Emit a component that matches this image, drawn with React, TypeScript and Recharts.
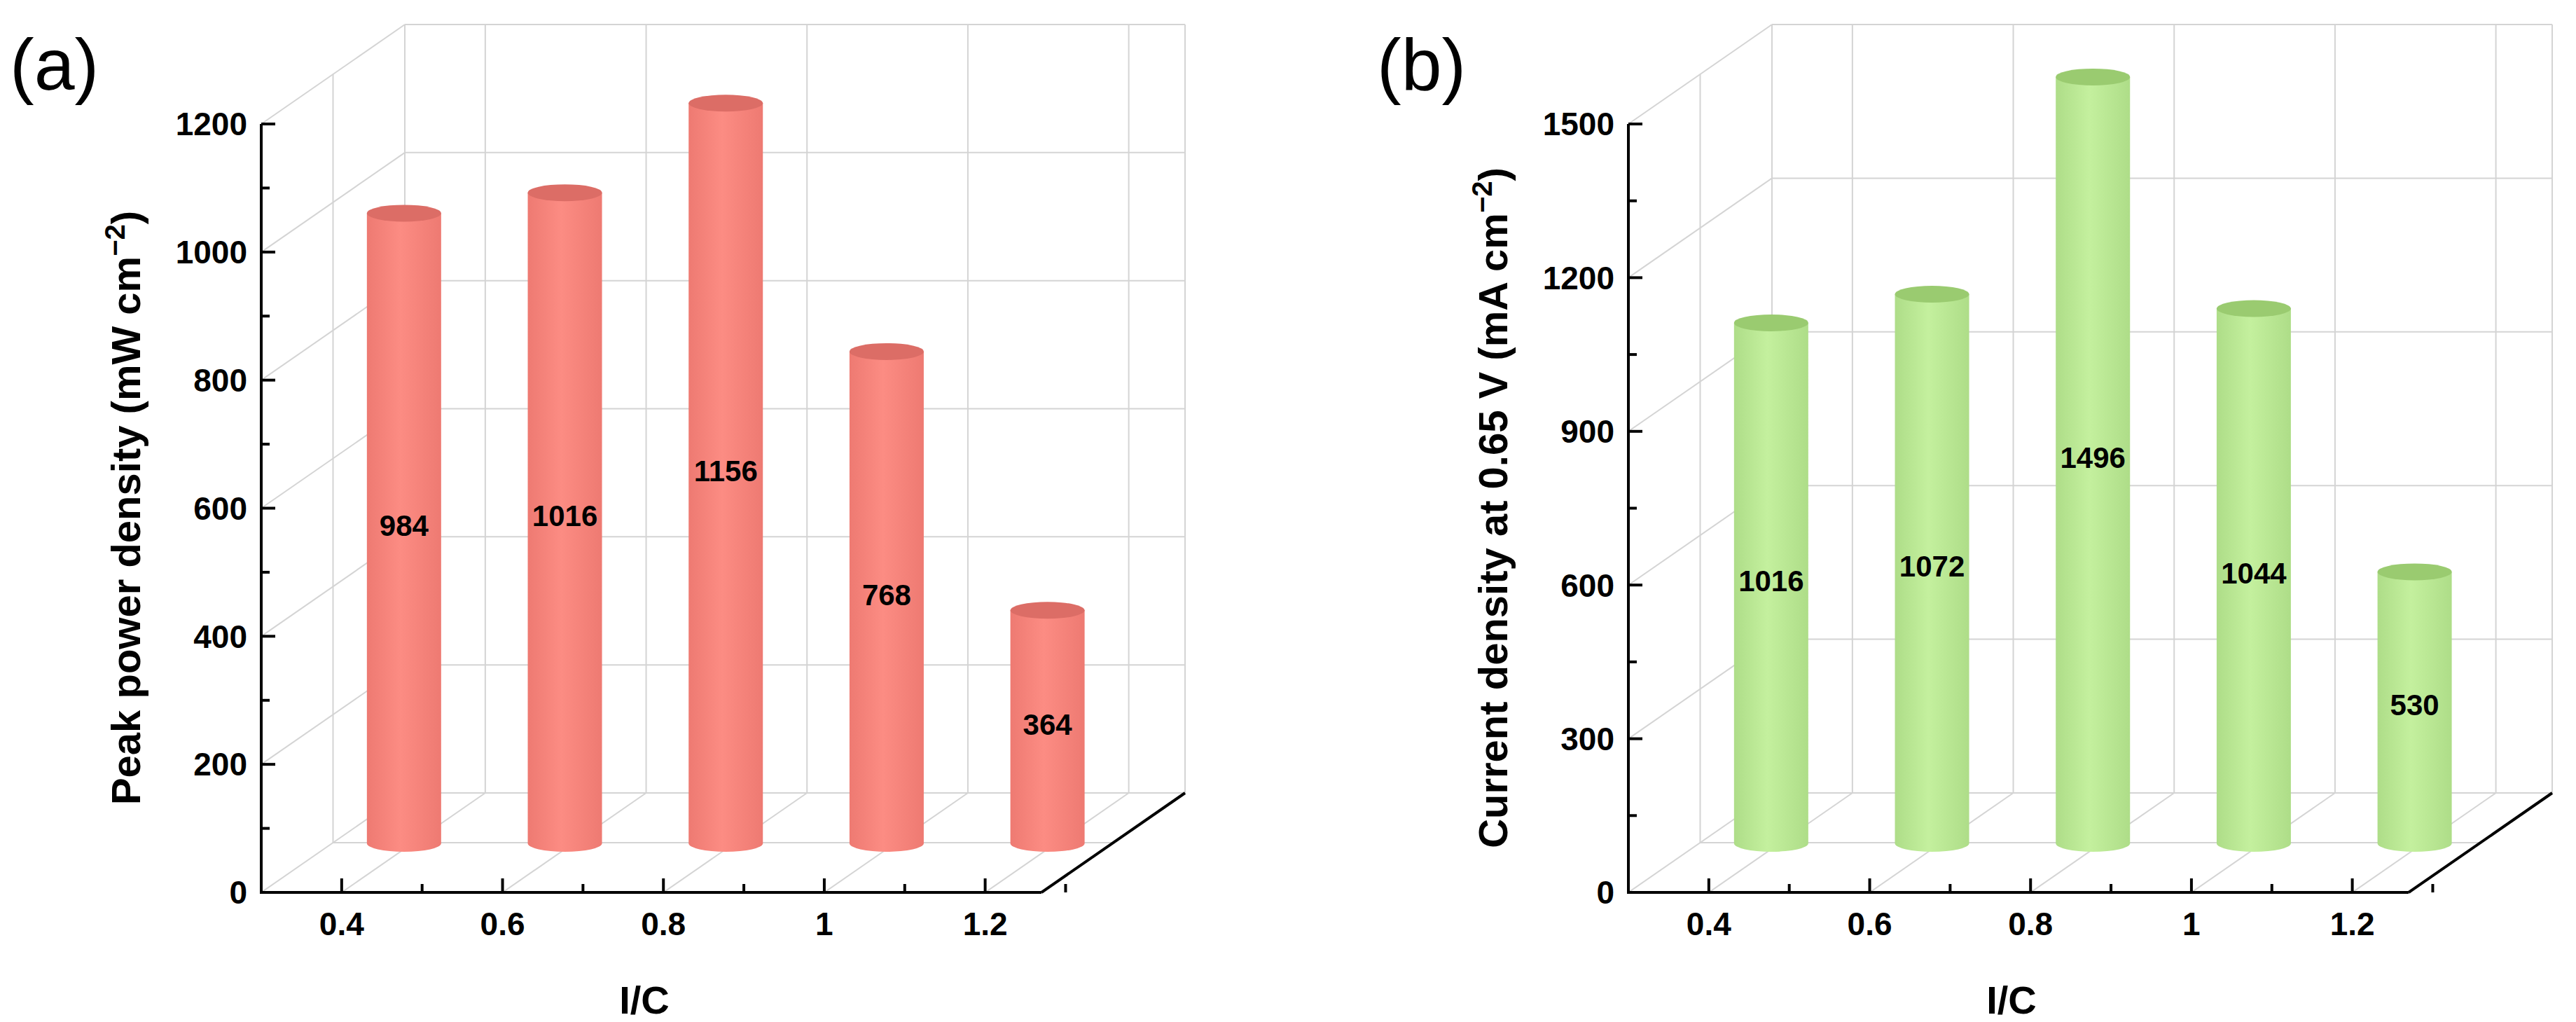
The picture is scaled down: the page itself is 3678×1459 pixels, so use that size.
import React from 'react';
import { BarChart, Bar, XAxis, YAxis } from 'recharts';

const RATIOS = [0.5, 0.7, 0.9, 1.1, 1.3];
const X_TICKS = [0.4, 0.6, 0.8, 1, 1.2];
const POWER = [984, 1016, 1156, 768, 364];
const POWER_TICKS = [0, 200, 400, 600, 800, 1000, 1200];
const CURRENT = [1016, 1072, 1496, 1044, 530];
const CURRENT_TICKS = [0, 300, 600, 900, 1200, 1500];

const PANEL_W = 1726;
const PANEL_H = 1459;
const L = 373, T = 177, B = 1274, R = 1487;
const W = R - L, H = B - T;
const X_AXIS_H = 80;
const X_MIN = 0.3, X_MAX = 1.27, X_PLOT_MAX = 1.4;
const PLOT_R = L + ((X_PLOT_MAX - X_MIN) / (X_MAX - X_MIN)) * W;
const DX = 205, DY = -142;
const SHIFT_X = -26, SHIFT_Y = -70;
const GRID = '#d4d4d4';
const FONT = '"Liberation Sans", Arial, sans-serif';

function Decor({ yTicks }: { yTicks: number[] }) {
  const yMax = yTicks[yTicks.length - 1];
  const X = (v: number) => L + ((v - X_MIN) / (X_MAX - X_MIN)) * W;
  const Y = (v: number) => B - (v / yMax) * H;
  const step = yTicks[1] - yTicks[0];
  const lines: JSX.Element[] = [];
  let k = 0;
  const ln = (x1: number, y1: number, x2: number, y2: number, c = GRID, w = 2) =>
    lines.push(<line key={k++} x1={x1} y1={y1} x2={x2} y2={y2} stroke={c} strokeWidth={w} />);
  // back wall
  yTicks.forEach(t => ln(L + DX, Y(t) + DY, R + DX, Y(t) + DY));
  [...X_TICKS, X_MAX].forEach(t => ln(X(t) + DX, Y(yMax) + DY, X(t) + DX, B + DY));
  ln(L + DX, Y(yMax) + DY, L + DX, B + DY);
  // left wall
  yTicks.forEach(t => ln(L, Y(t), L + DX, Y(t) + DY));
  ln(L + DX / 2, Y(yMax) + DY / 2, L + DX / 2, B + DY / 2);
  // floor
  X_TICKS.forEach(t => ln(X(t), B, X(t) + DX, B + DY));
  ln(L + DX / 2, B + DY / 2, R + DX / 2, B + DY / 2);
  ln(R, B, R + DX, B + DY, '#000', 4);
  ln(L - 2, B, R, B, '#000', 4);
  // ticks inward
  yTicks.forEach(t => {
    ln(L, Y(t), L + 20, Y(t), '#000', 4);
    if (t < yMax) ln(L, Y(t + step / 2), L + 12, Y(t + step / 2), '#000', 4);
  });
  X_TICKS.forEach(t => {
    ln(X(t), B, X(t), B - 20, '#000', 4);
    ln(X(t + 0.1), B, X(t + 0.1), B - 12, '#000', 4);
  });
  return (
    <svg width={PANEL_W} height={PANEL_H} style={{ position: 'absolute', left: 0, top: 0 }}>
      {lines}
    </svg>
  );
}

function cylinder(colors: { id: string; top: string }) {
  return (props: any) => {
    const { x, y, width, height, value } = props;
    const left = x + SHIFT_X, right = left + width;
    const top = y + SHIFT_Y, bottom = y + height + SHIFT_Y;
    const rx = width / 2, ry = 12;
    return (
      <g>
        <path
          d={`M${left},${top} L${left},${bottom} A${rx},${ry} 0 0 0 ${right},${bottom} L${right},${top} Z`}
          fill={`url(#${colors.id})`}
        />
        <ellipse cx={left + rx} cy={top} rx={rx} ry={ry} fill={colors.top} />
        <text x={left + rx} y={(top + bottom) / 2} textAnchor="middle" dominantBaseline="middle"
          fontFamily={FONT} fontWeight="bold" fontSize={42} fill="#000">{value}</text>
      </g>
    );
  };
}

function Panel({ letter, values, yTicks, yLabel, grad, top }: any) {
  const data = RATIOS.map((r, i) => ({ r, v: values[i] }));
  const yMax = yTicks[yTicks.length - 1];
  const tick = { fontFamily: FONT, fontWeight: 'bold', fontSize: 46, fill: '#000' };
  return (
    <div style={{ position: 'absolute', left: 0, top: 0, width: PANEL_W, height: PANEL_H }}>
      <Decor yTicks={yTicks} />
      <div style={{ position: 'absolute', left: 0, top: 0 }}>
        <BarChart width={PANEL_W} height={PANEL_H} data={data}
          margin={{ left: 0, top: T, right: PANEL_W - PLOT_R, bottom: PANEL_H - B - X_AXIS_H }}>
          <defs>
            <linearGradient id={grad.id} x1="0" y1="0" x2="1" y2="0">
              <stop offset="0" stopColor={grad.edge} />
              <stop offset="0.45" stopColor={grad.mid} />
              <stop offset="1" stopColor={grad.edge} />
            </linearGradient>
          </defs>
          <XAxis dataKey="r" type="number" domain={[X_MIN, X_PLOT_MAX]} ticks={X_TICKS}
            height={X_AXIS_H} tickLine={false} axisLine={false} tick={tick} tickMargin={22}
            tickFormatter={(v: number) => String(v)} />
          <YAxis domain={[0, yMax]} ticks={yTicks} tickLine={false} width={L}
            axisLine={{ stroke: '#000', strokeWidth: 4 }} tick={tick} tickMargin={14} />
          <Bar dataKey="v" barSize={106} isAnimationActive={false} shape={cylinder(grad)} />
        </BarChart>
      </div>
      <div style={{ position: 'absolute', left: 14, top: 40, fontFamily: FONT, fontSize: 104, lineHeight: 1 }}>{letter}</div>
      <div style={{ position: 'absolute', left: 0, top: 1395, width: 2 * 920, textAlign: 'center', fontFamily: FONT, fontWeight: 'bold', fontSize: 56 }}>I/C</div>
      <svg width={300} height={PANEL_H} style={{ position: 'absolute', left: 0, top: 0 }}>
        <text transform={`translate(200, ${top}) rotate(-90)`} textAnchor="middle" fontFamily={FONT}
          fontWeight="bold" fontSize={58}>{yLabel}</text>
      </svg>
    </div>
  );
}

export default function App() {
  return (
    <div style={{ position: 'absolute', left: 0, top: 0, width: 3678, height: 1459, background: '#fff', overflow: 'hidden' }}>
      <div style={{ position: 'absolute', left: 0, top: 0 }}>
        <Panel letter="(a)" values={POWER} yTicks={POWER_TICKS} top={725}
          yLabel={<>Peak power density (mW cm<tspan dy={-22} fontSize={40}>−2</tspan><tspan dy={22}>)</tspan></>}
          grad={{ id: 'gRed', edge: '#ee7a72', mid: '#fc8c83', top: '#dc6d66' }} />
      </div>
      <div style={{ position: 'absolute', left: 1952, top: 0 }}>
        <Panel letter="(b)" values={CURRENT} yTicks={CURRENT_TICKS} top={725}
          yLabel={<>Current density at 0.65 V (mA cm<tspan dy={-22} fontSize={40}>−2</tspan><tspan dy={22}>)</tspan></>}
          grad={{ id: 'gGreen', edge: '#aedd88', mid: '#c4f09e', top: '#9acb70' }} />
      </div>
    </div>
  );
}
